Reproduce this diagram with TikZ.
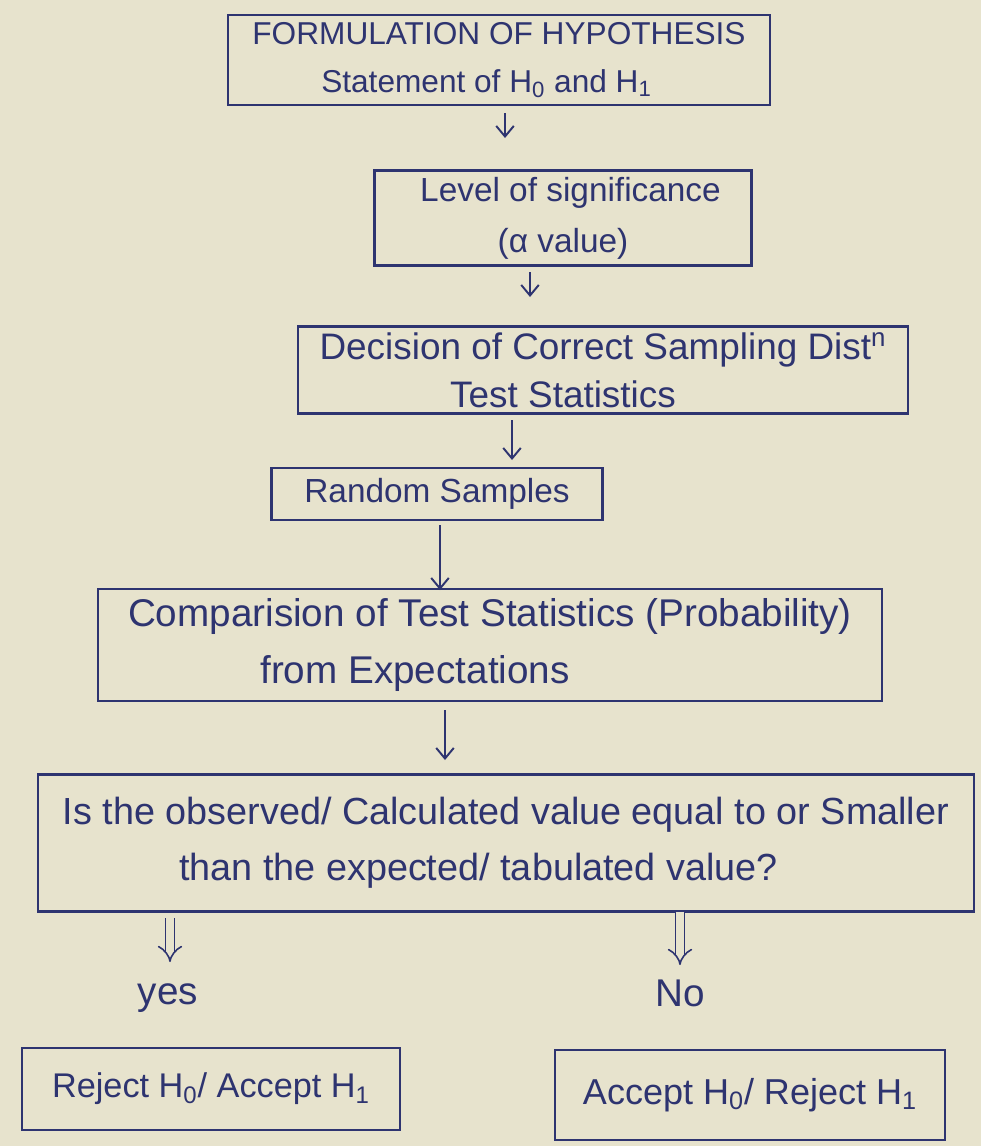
\documentclass[tikz,border=0pt]{standalone}
\usepackage{fontspec}
\setmainfont{Liberation Sans}
\usetikzlibrary{arrows.meta}
\definecolor{paper}{HTML}{E7E3CD}
\definecolor{ink}{HTML}{2E3470}
\tikzset{
  box/.style={draw=ink, line width=1.2pt, text=ink, align=center, inner sep=0pt},
  lbl/.style={text=ink, inner sep=0pt},
  arr/.style={draw=ink, line width=1.1pt, -{Straight Barb[length=6pt,width=10pt]}},
  darr/.style={draw=ink, line width=0.9pt, double=paper, double distance=4pt, -{Implies[length=8pt]}},
}
\begin{document}
\begin{tikzpicture}[x=0.02cm,y=-0.02cm]
\fill[paper] (0,0) rectangle (981,1146);
\useasboundingbox (0,0) rectangle (981,1146);

\node[box, minimum width=10.84cm, minimum height=1.8cm, font=\fontsize{18}{27}\selectfont] (f1) at (499,60)
  {FORMULATION OF HYPOTHESIS\\\hspace*{-0.5cm}Statement of H\textsubscript{0} and H\textsubscript{1}};
\node[box, minimum width=7.54cm, minimum height=1.9cm, font=\fontsize{19}{29}\selectfont] (f2) at (563,218)
  {\hspace*{0.3cm}Level of significance\\(α value)};
\node[box, minimum width=12.2cm, minimum height=1.74cm, font=\fontsize{21}{27}\selectfont] (f3) at (603,370)
  {Decision of Correct Sampling Dist\textsuperscript{n}\\\hspace*{-1.6cm}Test Statistics};
\node[box, minimum width=6.62cm, minimum height=1.04cm, font=\fontsize{19}{26}\selectfont] (f4) at (437,494)
  {Random Samples};
\node[box, minimum width=15.7cm, minimum height=2.24cm, font=\fontsize{22}{33}\selectfont] (f5) at (490,645)
  {Comparision of Test Statistics (Probability)\\[-1pt]\hspace*{-3cm}from Expectations};
\node[box, minimum width=18.74cm, minimum height=2.74cm, font=\fontsize{21.5}{32}\selectfont] (f6) at (506,843)
  {Is the observed/ Calculated value equal to or Smaller\\\hspace*{-1.1cm}than the expected/ tabulated value?};
\node[lbl, font=\fontsize{22}{26}\selectfont] (yes) at (168,998) {yes};
\node[lbl, font=\fontsize{22}{26}\selectfont] (no) at (680,993) {No};
\node[box, minimum width=7.56cm, minimum height=1.64cm, font=\fontsize{19.5}{26}\selectfont] (f7) at (211,1089)
  {Reject H\textsubscript{0}/ Accept H\textsubscript{1}};
\node[box, minimum width=7.8cm, minimum height=1.8cm, font=\fontsize{20.5}{26}\selectfont] (f8) at (750,1095)
  {Accept H\textsubscript{0}/ Reject H\textsubscript{1}};

\coordinate (a1s) at (505,113); \coordinate (a1e) at (505,138);
\coordinate (a2s) at (530,272); \coordinate (a2e) at (530,297);
\coordinate (a3s) at (512,420); \coordinate (a3e) at (512,460);
\coordinate (a4s) at (440,525); \coordinate (a4e) at (440,590);
\coordinate (a5s) at (445,710); \coordinate (a5e) at (445,760);
\draw[arr] (a1s) -- (a1e);
\draw[arr] (a2s) -- (a2e);
\draw[arr] (a3s) -- (a3e);
\draw[arr] (a4s) -- (a4e);
\draw[arr] (a5s) -- (a5e);

\coordinate (d1s) at (170,918); \coordinate (d1e) at (170,962);
\coordinate (d2s) at (680,912); \coordinate (d2e) at (680,965);
\draw[darr] (d1s) -- (d1e);
\draw[darr] (d2s) -- (d2e);
\end{tikzpicture}
\end{document}
